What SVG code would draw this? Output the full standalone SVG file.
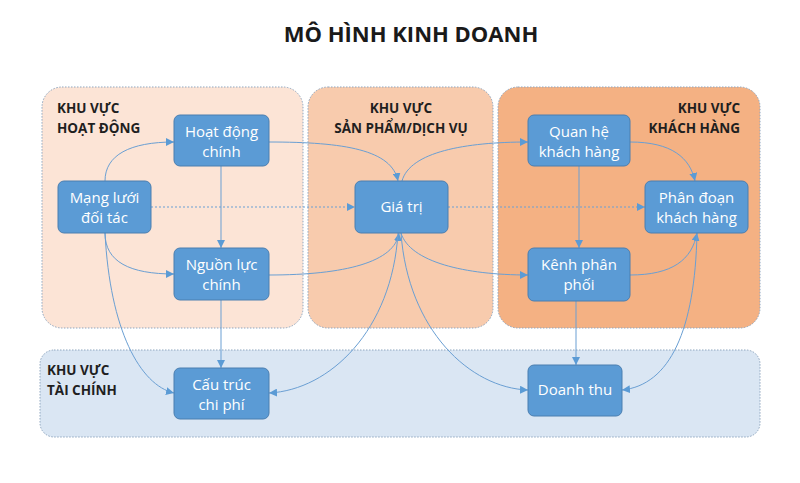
<svg xmlns="http://www.w3.org/2000/svg" width="800" height="483" viewBox="0 0 800 483">
<defs>
<marker id="arr" viewBox="0 0 10 10" refX="10" refY="5" markerWidth="8" markerHeight="8" markerUnits="userSpaceOnUse" orient="auto">
<path d="M0,0 L10,5 L0,10 z" fill="#5B9BD5"/>
</marker>
</defs>
<style>
.zone{stroke:#8FA6BF;stroke-width:1;stroke-dasharray:1.5 1.5}
.zl{font-family:"Open Sans","Liberation Sans",sans-serif;font-weight:bold;font-size:13.5px;fill:#1F1F1F}
.node rect{fill:#5B9BD5;stroke:#4A7EB0;stroke-width:1}
.node text{font-family:"Open Sans","Liberation Sans",sans-serif;font-size:15px;fill:#FFFFFF;text-anchor:middle}
.c{fill:none;stroke:#6A9FD3;stroke-width:1;marker-end:url(#arr)}
.d{stroke-dasharray:2 2}
</style>
<rect width="800" height="483" fill="#FFFFFF"/>
<text x="411" y="42" text-anchor="middle" style="font-family:'Open Sans','Liberation Sans',sans-serif;font-weight:bold;font-size:22px;fill:#1A1A1A">MÔ HÌNH KINH DOANH</text>

<g id="zones">
<rect id="zone-hoat-dong" class="zone" x="42" y="87" width="261" height="241" rx="20" fill="#FCE4D6"/>
<rect id="zone-san-pham" class="zone" x="308" y="87" width="185" height="241" rx="20" fill="#F8CBAD"/>
<rect id="zone-khach-hang" class="zone" x="498" y="87" width="262" height="241" rx="20" fill="#F4B183"/>
<rect id="zone-tai-chinh" class="zone" x="40" y="350" width="720" height="87" rx="14" fill="#DAE6F3"/>
<text class="zl" x="57" y="113">KHU VỰC</text>
<text class="zl" x="57" y="133">HOẠT ĐỘNG</text>
<text class="zl" x="401" y="113" text-anchor="middle">KHU VỰC</text>
<text class="zl" x="401" y="133" text-anchor="middle">SẢN PHẨM/DỊCH VỤ</text>
<text class="zl" x="740" y="113" text-anchor="end">KHU VỰC</text>
<text class="zl" x="740" y="133" text-anchor="end">KHÁCH HÀNG</text>
<text class="zl" x="47" y="375">KHU VỰC</text>
<text class="zl" x="47" y="395">TÀI CHÍNH</text>
</g>

<g id="connectors">
<path class="c" d="M105,181 C105,155 130,142 174,142"/>
<path class="c" d="M105,233 C105,262 130,274 174,274"/>
<path class="c d" d="M151,207 L355,207"/>
<path class="c" d="M221,166 L221,248"/>
<path class="c" d="M269,142 C345,142 392,150 398,181"/>
<path class="c" d="M269,275 C345,275 395,262 399,233"/>
<path class="c" d="M402,181 C410,152 465,142 528,142"/>
<path class="c" d="M401,233 C410,262 465,275 528,275"/>
<path class="c d" d="M448,207 L645,207"/>
<path class="c" d="M630,142 C672,142 690,158 695,181"/>
<path class="c" d="M579,166 L579,248"/>
<path class="c" d="M630,275 C672,275 692,260 697,233"/>
<path class="c" d="M105,233 C110,330 140,385 174,393"/>
<path class="c" d="M221,300 L221,368"/>
<path class="c" d="M398,233 C392,330 330,390 269,393"/>
<path class="c" d="M401,233 C408,330 470,388 528,390"/>
<path class="c" d="M576,301 L576,365"/>
<path class="c" d="M697,233 C695,330 670,385 622,390"/>
</g>

<g id="node-mang-luoi" class="node">
<rect x="58" y="181" width="93" height="52" rx="6"/>
<text x="104.5" y="203">Mạng lưới</text>
<text x="104.5" y="223">đối tác</text>
</g>
<g id="node-hoat-dong-chinh" class="node">
<rect x="174" y="115" width="95" height="51" rx="6"/>
<text x="221.5" y="137">Hoạt động</text>
<text x="221.5" y="157">chính</text>
</g>
<g id="node-nguon-luc" class="node">
<rect x="174" y="248" width="95" height="52" rx="6"/>
<text x="221.5" y="270">Nguồn lực</text>
<text x="221.5" y="290">chính</text>
</g>
<g id="node-gia-tri" class="node">
<rect x="355" y="181" width="93" height="52" rx="6"/>
<text x="401.5" y="212">Giá trị</text>
</g>
<g id="node-quan-he" class="node">
<rect x="528" y="115" width="102" height="51" rx="6"/>
<text x="579" y="137">Quan hệ</text>
<text x="579" y="157">khách hàng</text>
</g>
<g id="node-phan-doan" class="node">
<rect x="645" y="181" width="103" height="52" rx="6"/>
<text x="696.5" y="203">Phân đoạn</text>
<text x="696.5" y="223">khách hàng</text>
</g>
<g id="node-kenh" class="node">
<rect x="528" y="248" width="102" height="53" rx="6"/>
<text x="579" y="270">Kênh phân</text>
<text x="579" y="290">phối</text>
</g>
<g id="node-cau-truc" class="node">
<rect x="174" y="368" width="95" height="51" rx="6"/>
<text x="221.5" y="390">Cấu trúc</text>
<text x="221.5" y="410">chi phí</text>
</g>
<g id="node-doanh-thu" class="node">
<rect x="528" y="365" width="94" height="51" rx="6"/>
<text x="575" y="395">Doanh thu</text>
</g>
</svg>
